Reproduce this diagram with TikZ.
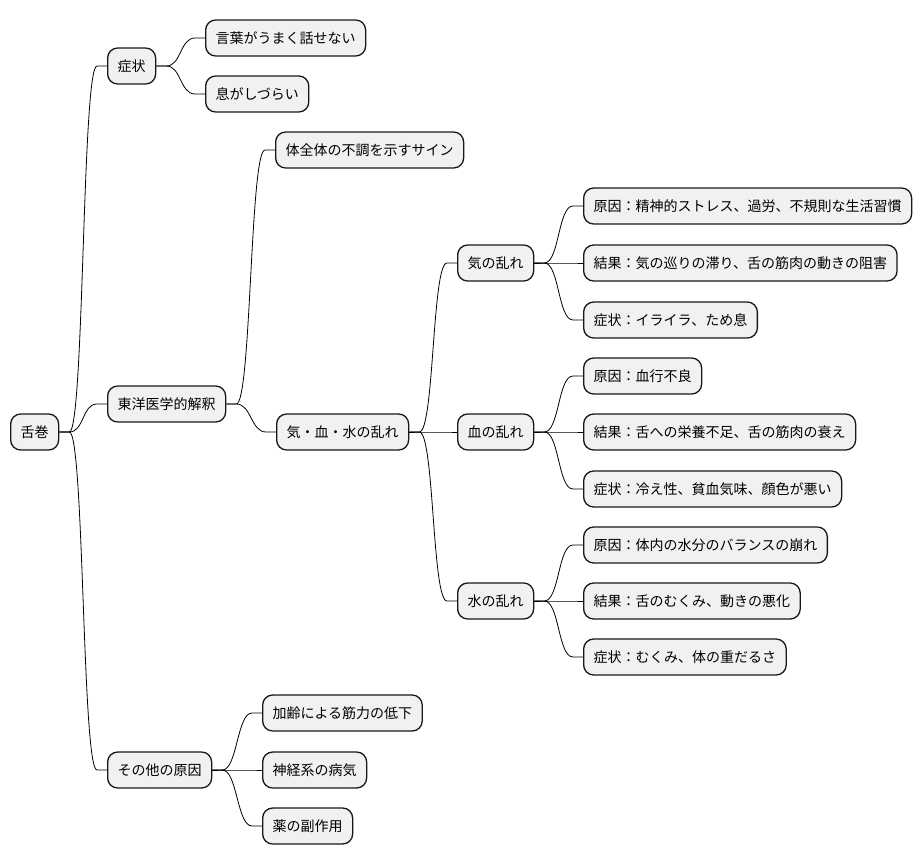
\documentclass[tikz,border=0pt]{standalone}
\usepackage{fontspec}
\setmainfont{Noto Sans CJK JP}
\usetikzlibrary{calc}
\definecolor{boxfill}{HTML}{F1F1F1}
\definecolor{boxline}{HTML}{181818}
\tikzset{
  mmbox/.style={draw=boxline, fill=boxfill, line width=1.3pt, rounded corners=10pt,
    minimum height=36pt, inner xsep=10pt, inner ysep=0pt, anchor=west,
    font=\fontsize{14}{16}\selectfont, text=black},
  mmline/.style={draw=black, line width=0.8pt}
}
\newcommand\mmlink[2]{%
  \draw[mmline] (#1.east) -- ($(#1.east)+(10,0)$)
    .. controls ($(#1.east)+(25,0)$) and ($(#2.west)+(-25,0)$) .. ($(#2.west)+(-10,0)$)
    -- (#2.west);}
\begin{document}
\begin{tikzpicture}[x=1pt,y=-1pt]
\useasboundingbox (0,0) rectangle (922,865);
\node[mmbox] (root) at (10,432) {舌巻};
\node[mmbox] (s1) at (107,66) {症状};
\node[mmbox] (s11) at (205,38) {言葉がうまく話せない};
\node[mmbox] (s12) at (205,94) {息がしづらい};
\node[mmbox] (t) at (107,404) {東洋医学的解釈};
\node[mmbox] (t1) at (275,150) {体全体の不調を示すサイン};
\node[mmbox] (t2) at (276,432) {気・血・水の乱れ};
\node[mmbox] (ki) at (457,263) {気の乱れ};
\node[mmbox] (ki1) at (583,206) {原因：精神的ストレス、過労、不規則な生活習慣};
\node[mmbox] (ki2) at (583,263) {結果：気の巡りの滞り、舌の筋肉の動きの阻害};
\node[mmbox] (ki3) at (583,320) {症状：イライラ、ため息};
\node[mmbox] (ke) at (457,432) {血の乱れ};
\node[mmbox] (ke1) at (583,376) {原因：血行不良};
\node[mmbox] (ke2) at (583,432) {結果：舌への栄養不足、舌の筋肉の衰え};
\node[mmbox] (ke3) at (583,489) {症状：冷え性、貧血気味、顔色が悪い};
\node[mmbox] (mi) at (457,601) {水の乱れ};
\node[mmbox] (mi1) at (583,545) {原因：体内の水分のバランスの崩れ};
\node[mmbox] (mi2) at (583,601) {結果：舌のむくみ、動きの悪化};
\node[mmbox] (mi3) at (583,657) {症状：むくみ、体の重だるさ};
\node[mmbox] (o) at (107,770) {その他の原因};
\node[mmbox] (o1) at (262,713) {加齢による筋力の低下};
\node[mmbox] (o2) at (262,770) {神経系の病気};
\node[mmbox] (o3) at (262,826) {薬の副作用};
\mmlink{root}{s1}
\mmlink{root}{t}
\mmlink{root}{o}
\mmlink{s1}{s11}
\mmlink{s1}{s12}
\mmlink{t}{t1}
\mmlink{t}{t2}
\mmlink{t2}{ki}
\mmlink{t2}{ke}
\mmlink{t2}{mi}
\mmlink{ki}{ki1}
\mmlink{ki}{ki2}
\mmlink{ki}{ki3}
\mmlink{ke}{ke1}
\mmlink{ke}{ke2}
\mmlink{ke}{ke3}
\mmlink{mi}{mi1}
\mmlink{mi}{mi2}
\mmlink{mi}{mi3}
\mmlink{o}{o1}
\mmlink{o}{o2}
\mmlink{o}{o3}
\end{tikzpicture}
\end{document}
